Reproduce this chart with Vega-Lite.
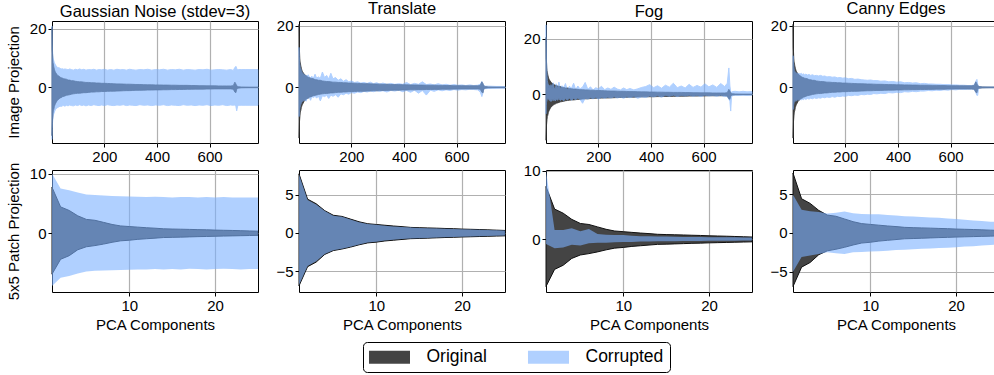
{
"$schema": "https://vega.github.io/schema/vega-lite/v6.json",
"background": "white",
"padding": {"left": 5, "top": 0, "right": 0, "bottom": 0},
"config": {
  "font": "Liberation Sans",
  "view": {"stroke": "#000000", "strokeWidth": 1},
  "axis": {"grid": true, "gridColor": "#b0b0b0", "gridWidth": 1.2, "domain": false, "tickColor": "#000000", "tickSize": 4, "labelFontSize": 15, "labelColor": "#000000", "titleFontSize": 15, "titleFontWeight": "normal", "titleColor": "#000000", "zindex": 1, "labelPadding": 2},
  "axisY": {"titlePadding": 8},
  "title": {"fontSize": 16.5, "fontWeight": "normal", "color": "#000000", "offset": 1},
  "legend": {"orient": "none", "legendX": 311, "legendY": 321, "direction": "horizontal", "title": null, "symbolType": "M-2.278,-0.72H2.278V0.72H-2.278Z", "symbolSize": 324, "symbolOffset": 11.5, "symbolStrokeWidth": 0, "labelFontSize": 17.5, "labelColor": "#000000", "labelOffset": 28, "columnPadding": 40, "padding": 6, "strokeColor": "#000000", "cornerRadius": 4, "fillColor": "#ffffff"}
},
"datasets": {
"ot": [
{"s":"Original","x":1,"lo":-16.5,"hi":20.5},{"s":"Original","x":2,"lo":-14,"hi":13},{"s":"Original","x":3,"lo":-11,"hi":11.5},{"s":"Original","x":4,"lo":-10,"hi":9.5},{"s":"Original","x":5,"lo":-9,"hi":8.5},{"s":"Original","x":6,"lo":-8,"hi":8},{"s":"Original","x":8,"lo":-7.5,"hi":7},{"s":"Original","x":10,"lo":-6.5,"hi":6.2},{"s":"Original","x":12,"lo":-6,"hi":5.6},{"s":"Original","x":14,"lo":-5.6,"hi":5.2},{"s":"Original","x":17,"lo":-5.1,"hi":4.8},{"s":"Original","x":20,"lo":-4.6,"hi":4.4},{"s":"Original","x":24,"lo":-4.2,"hi":4.0},{"s":"Original","x":28,"lo":-3.9,"hi":3.8},{"s":"Original","x":32,"lo":-3.6,"hi":3.5},{"s":"Original","x":36,"lo":-3.5,"hi":3.3},{"s":"Original","x":40,"lo":-3.2,"hi":3.2},{"s":"Original","x":45,"lo":-3.1,"hi":3.0},{"s":"Original","x":50,"lo":-2.9,"hi":2.9},{"s":"Original","x":56,"lo":-2.7,"hi":2.8},{"s":"Original","x":62,"lo":-2.6,"hi":2.5},{"s":"Original","x":68,"lo":-2.5,"hi":2.5},{"s":"Original","x":75,"lo":-2.3,"hi":2.3},{"s":"Original","x":82,"lo":-2.2,"hi":2.3},{"s":"Original","x":90,"lo":-2.1,"hi":2.1},{"s":"Original","x":98,"lo":-2.0,"hi":2.0},{"s":"Original","x":106,"lo":-2.0,"hi":1.9},{"s":"Original","x":114,"lo":-1.9,"hi":1.9},{"s":"Original","x":122,"lo":-1.8,"hi":1.8},{"s":"Original","x":130,"lo":-1.8,"hi":1.7},{"s":"Original","x":140,"lo":-1.7,"hi":1.7},{"s":"Original","x":150,"lo":-1.6,"hi":1.6},{"s":"Original","x":160,"lo":-1.6,"hi":1.6},{"s":"Original","x":170,"lo":-1.5,"hi":1.5},{"s":"Original","x":180,"lo":-1.5,"hi":1.5},{"s":"Original","x":190,"lo":-1.4,"hi":1.4},{"s":"Original","x":200,"lo":-1.4,"hi":1.4},{"s":"Original","x":212,"lo":-1.35,"hi":1.35},{"s":"Original","x":224,"lo":-1.3,"hi":1.3},{"s":"Original","x":236,"lo":-1.3,"hi":1.25},{"s":"Original","x":248,"lo":-1.25,"hi":1.2},{"s":"Original","x":260,"lo":-1.2,"hi":1.2},{"s":"Original","x":272,"lo":-1.15,"hi":1.15},{"s":"Original","x":284,"lo":-1.1,"hi":1.1},{"s":"Original","x":296,"lo":-1.1,"hi":1.1},{"s":"Original","x":308,"lo":-1.05,"hi":1.05},{"s":"Original","x":320,"lo":-1.0,"hi":1.0},{"s":"Original","x":335,"lo":-1.0,"hi":1.0},{"s":"Original","x":350,"lo":-0.95,"hi":0.95},{"s":"Original","x":365,"lo":-0.9,"hi":0.9},{"s":"Original","x":380,"lo":-0.9,"hi":0.9},{"s":"Original","x":395,"lo":-0.85,"hi":0.85},{"s":"Original","x":410,"lo":-0.85,"hi":0.85},{"s":"Original","x":425,"lo":-0.8,"hi":0.8},{"s":"Original","x":440,"lo":-0.8,"hi":0.8},{"s":"Original","x":455,"lo":-0.75,"hi":0.75},{"s":"Original","x":470,"lo":-0.75,"hi":0.75},{"s":"Original","x":485,"lo":-0.7,"hi":0.7},{"s":"Original","x":500,"lo":-0.7,"hi":0.7},{"s":"Original","x":515,"lo":-0.65,"hi":0.7},{"s":"Original","x":530,"lo":-0.65,"hi":0.65},{"s":"Original","x":545,"lo":-0.6,"hi":0.65},{"s":"Original","x":560,"lo":-0.6,"hi":0.6},{"s":"Original","x":575,"lo":-0.6,"hi":0.6},{"s":"Original","x":590,"lo":-0.55,"hi":0.55},{"s":"Original","x":605,"lo":-0.55,"hi":0.55},{"s":"Original","x":620,"lo":-0.5,"hi":0.55},{"s":"Original","x":635,"lo":-0.5,"hi":0.5},{"s":"Original","x":650,"lo":-0.5,"hi":0.5},{"s":"Original","x":665,"lo":-0.5,"hi":0.5},{"s":"Original","x":680,"lo":-0.5,"hi":0.5},{"s":"Original","x":690,"lo":-0.6,"hi":0.6},{"s":"Original","x":696,"lo":-1.6,"hi":1.8},{"s":"Original","x":700,"lo":-1.8,"hi":1.2},{"s":"Original","x":703,"lo":-0.6,"hi":0.5},{"s":"Original","x":706,"lo":-0.4,"hi":0.4},{"s":"Original","x":710,"lo":-0.25,"hi":0.25},{"s":"Original","x":720,"lo":-0.15,"hi":0.15},{"s":"Original","x":735,"lo":-0.12,"hi":0.12},{"s":"Original","x":750,"lo":-0.1,"hi":0.1},{"s":"Original","x":765,"lo":-0.1,"hi":0.1},{"s":"Original","x":784,"lo":-0.1,"hi":0.1}
],
"ct": [
{"p":"G","s":"Corrupted","x":1,"lo":-17.8,"hi":21},{"p":"G","s":"Corrupted","x":2,"lo":-14,"hi":14.5},{"p":"G","s":"Corrupted","x":3,"lo":-12,"hi":12.5},{"p":"G","s":"Corrupted","x":4,"lo":-11,"hi":11},{"p":"G","s":"Corrupted","x":5,"lo":-10.2,"hi":10},{"p":"G","s":"Corrupted","x":6,"lo":-9.5,"hi":9.8},{"p":"G","s":"Corrupted","x":8,"lo":-9,"hi":9},{"p":"G","s":"Corrupted","x":10,"lo":-8.4,"hi":8.5},{"p":"G","s":"Corrupted","x":12,"lo":-8,"hi":8},{"p":"G","s":"Corrupted","x":14,"lo":-7.6,"hi":7.8},{"p":"G","s":"Corrupted","x":17,"lo":-7.3,"hi":7.2},{"p":"G","s":"Corrupted","x":20,"lo":-7.0,"hi":7.1},{"p":"G","s":"Corrupted","x":24,"lo":-6.8,"hi":6.7},{"p":"G","s":"Corrupted","x":28,"lo":-6.6,"hi":6.7},{"p":"G","s":"Corrupted","x":32,"lo":-6.4,"hi":6.5},{"p":"G","s":"Corrupted","x":36,"lo":-6.5,"hi":6.3},{"p":"G","s":"Corrupted","x":40,"lo":-6.3,"hi":6.4},{"p":"G","s":"Corrupted","x":45,"lo":-6.2,"hi":6.2},{"p":"G","s":"Corrupted","x":50,"lo":-6.4,"hi":6.3},{"p":"G","s":"Corrupted","x":56,"lo":-6.1,"hi":6.2},{"p":"G","s":"Corrupted","x":62,"lo":-6.3,"hi":6.0},{"p":"G","s":"Corrupted","x":68,"lo":-6.0,"hi":6.3},{"p":"G","s":"Corrupted","x":75,"lo":-6.2,"hi":6.1},{"p":"G","s":"Corrupted","x":82,"lo":-6.3,"hi":5.9},{"p":"G","s":"Corrupted","x":90,"lo":-6.0,"hi":6.2},{"p":"G","s":"Corrupted","x":98,"lo":-6.2,"hi":6.0},{"p":"G","s":"Corrupted","x":106,"lo":-5.9,"hi":6.3},{"p":"G","s":"Corrupted","x":114,"lo":-6.2,"hi":6.0},{"p":"G","s":"Corrupted","x":122,"lo":-6.0,"hi":6.2},{"p":"G","s":"Corrupted","x":130,"lo":-6.3,"hi":5.9},{"p":"G","s":"Corrupted","x":140,"lo":-6.0,"hi":6.1},{"p":"G","s":"Corrupted","x":150,"lo":-6.2,"hi":6.0},{"p":"G","s":"Corrupted","x":160,"lo":-5.9,"hi":6.2},{"p":"G","s":"Corrupted","x":170,"lo":-6.1,"hi":5.9},{"p":"G","s":"Corrupted","x":180,"lo":-6.2,"hi":6.1},{"p":"G","s":"Corrupted","x":190,"lo":-6.0,"hi":6.0},{"p":"G","s":"Corrupted","x":200,"lo":-6.2,"hi":6.2},{"p":"G","s":"Corrupted","x":212,"lo":-5.9,"hi":5.9},{"p":"G","s":"Corrupted","x":224,"lo":-6.1,"hi":6.1},{"p":"G","s":"Corrupted","x":236,"lo":-6.2,"hi":5.9},{"p":"G","s":"Corrupted","x":248,"lo":-6.0,"hi":6.2},{"p":"G","s":"Corrupted","x":260,"lo":-6.1,"hi":6.0},{"p":"G","s":"Corrupted","x":272,"lo":-5.9,"hi":6.1},{"p":"G","s":"Corrupted","x":284,"lo":-6.2,"hi":5.9},{"p":"G","s":"Corrupted","x":296,"lo":-6.0,"hi":6.2},{"p":"G","s":"Corrupted","x":308,"lo":-6.1,"hi":6.0},{"p":"G","s":"Corrupted","x":320,"lo":-6.2,"hi":5.9},{"p":"G","s":"Corrupted","x":335,"lo":-5.9,"hi":6.1},{"p":"G","s":"Corrupted","x":350,"lo":-6.1,"hi":6.0},{"p":"G","s":"Corrupted","x":365,"lo":-6.0,"hi":6.2},{"p":"G","s":"Corrupted","x":380,"lo":-6.2,"hi":5.9},{"p":"G","s":"Corrupted","x":395,"lo":-6.0,"hi":6.1},{"p":"G","s":"Corrupted","x":410,"lo":-6.1,"hi":6.0},{"p":"G","s":"Corrupted","x":425,"lo":-5.9,"hi":6.2},{"p":"G","s":"Corrupted","x":440,"lo":-6.2,"hi":5.9},{"p":"G","s":"Corrupted","x":455,"lo":-6.0,"hi":6.1},{"p":"G","s":"Corrupted","x":470,"lo":-6.1,"hi":6.0},{"p":"G","s":"Corrupted","x":485,"lo":-6.2,"hi":6.2},{"p":"G","s":"Corrupted","x":500,"lo":-5.9,"hi":5.9},{"p":"G","s":"Corrupted","x":515,"lo":-6.1,"hi":6.1},{"p":"G","s":"Corrupted","x":530,"lo":-6.0,"hi":6.0},{"p":"G","s":"Corrupted","x":545,"lo":-6.2,"hi":5.9},{"p":"G","s":"Corrupted","x":560,"lo":-6.0,"hi":6.1},{"p":"G","s":"Corrupted","x":575,"lo":-6.1,"hi":6.0},{"p":"G","s":"Corrupted","x":590,"lo":-5.9,"hi":6.2},{"p":"G","s":"Corrupted","x":605,"lo":-6.2,"hi":5.9},{"p":"G","s":"Corrupted","x":620,"lo":-6.0,"hi":6.0},{"p":"G","s":"Corrupted","x":635,"lo":-6.1,"hi":6.1},{"p":"G","s":"Corrupted","x":650,"lo":-5.9,"hi":6.0},{"p":"G","s":"Corrupted","x":665,"lo":-6.2,"hi":5.9},{"p":"G","s":"Corrupted","x":680,"lo":-6.0,"hi":6.1},{"p":"G","s":"Corrupted","x":690,"lo":-6.1,"hi":5.8},{"p":"G","s":"Corrupted","x":696,"lo":-6.0,"hi":6.8},{"p":"G","s":"Corrupted","x":700,"lo":-6.5,"hi":7.2},{"p":"G","s":"Corrupted","x":703,"lo":-8.0,"hi":6.5},{"p":"G","s":"Corrupted","x":706,"lo":-6.6,"hi":6.0},{"p":"G","s":"Corrupted","x":710,"lo":-6.1,"hi":6.1},{"p":"G","s":"Corrupted","x":720,"lo":-6.1,"hi":6.1},{"p":"G","s":"Corrupted","x":735,"lo":-6.1,"hi":6.1},{"p":"G","s":"Corrupted","x":750,"lo":-6.1,"hi":6.1},{"p":"G","s":"Corrupted","x":765,"lo":-6.1,"hi":6.1},{"p":"G","s":"Corrupted","x":784,"lo":-6.1,"hi":6.1},
{"p":"T","s":"Corrupted","x":1,"lo":-9.5,"hi":13},{"p":"T","s":"Corrupted","x":2,"lo":-9,"hi":10},{"p":"T","s":"Corrupted","x":3,"lo":-8,"hi":8.5},{"p":"T","s":"Corrupted","x":4,"lo":-7,"hi":7.5},{"p":"T","s":"Corrupted","x":5,"lo":-6.5,"hi":7},{"p":"T","s":"Corrupted","x":6,"lo":-6,"hi":6.5},{"p":"T","s":"Corrupted","x":8,"lo":-5.5,"hi":6},{"p":"T","s":"Corrupted","x":10,"lo":-5,"hi":5.5},{"p":"T","s":"Corrupted","x":12,"lo":-4.8,"hi":5},{"p":"T","s":"Corrupted","x":14,"lo":-4.5,"hi":4.7},{"p":"T","s":"Corrupted","x":17,"lo":-4.3,"hi":4.4},{"p":"T","s":"Corrupted","x":20,"lo":-4.4,"hi":4.2},{"p":"T","s":"Corrupted","x":24,"lo":-4.0,"hi":4.0},{"p":"T","s":"Corrupted","x":28,"lo":-4.5,"hi":3.8},{"p":"T","s":"Corrupted","x":32,"lo":-3.6,"hi":3.7},{"p":"T","s":"Corrupted","x":36,"lo":-3.5,"hi":4.1},{"p":"T","s":"Corrupted","x":40,"lo":-3.3,"hi":3.4},{"p":"T","s":"Corrupted","x":45,"lo":-4.2,"hi":3.2},{"p":"T","s":"Corrupted","x":50,"lo":-3.0,"hi":3.6},{"p":"T","s":"Corrupted","x":56,"lo":-3.3,"hi":3.0},{"p":"T","s":"Corrupted","x":62,"lo":-2.9,"hi":4.3},{"p":"T","s":"Corrupted","x":68,"lo":-3.5,"hi":3.0},{"p":"T","s":"Corrupted","x":75,"lo":-2.8,"hi":3.4},{"p":"T","s":"Corrupted","x":82,"lo":-4.4,"hi":2.9},{"p":"T","s":"Corrupted","x":90,"lo":-2.7,"hi":5.0},{"p":"T","s":"Corrupted","x":98,"lo":-3.0,"hi":3.2},{"p":"T","s":"Corrupted","x":106,"lo":-2.6,"hi":3.9},{"p":"T","s":"Corrupted","x":114,"lo":-3.6,"hi":2.7},{"p":"T","s":"Corrupted","x":122,"lo":-2.5,"hi":4.6},{"p":"T","s":"Corrupted","x":130,"lo":-2.9,"hi":2.8},{"p":"T","s":"Corrupted","x":140,"lo":-2.4,"hi":3.2},{"p":"T","s":"Corrupted","x":150,"lo":-3.2,"hi":2.3},{"p":"T","s":"Corrupted","x":160,"lo":-2.1,"hi":2.8},{"p":"T","s":"Corrupted","x":170,"lo":-2.4,"hi":2.0},{"p":"T","s":"Corrupted","x":180,"lo":-1.9,"hi":2.5},{"p":"T","s":"Corrupted","x":190,"lo":-2.2,"hi":1.8},{"p":"T","s":"Corrupted","x":200,"lo":-1.7,"hi":2.1},{"p":"T","s":"Corrupted","x":212,"lo":-1.9,"hi":1.6},{"p":"T","s":"Corrupted","x":224,"lo":-1.5,"hi":1.8},{"p":"T","s":"Corrupted","x":236,"lo":-1.7,"hi":1.4},{"p":"T","s":"Corrupted","x":248,"lo":-1.3,"hi":1.6},{"p":"T","s":"Corrupted","x":260,"lo":-1.5,"hi":1.3},{"p":"T","s":"Corrupted","x":272,"lo":-1.2,"hi":1.7},{"p":"T","s":"Corrupted","x":284,"lo":-1.4,"hi":1.2},{"p":"T","s":"Corrupted","x":296,"lo":-1.1,"hi":1.5},{"p":"T","s":"Corrupted","x":308,"lo":-1.3,"hi":1.1},{"p":"T","s":"Corrupted","x":320,"lo":-1.1,"hi":1.4},{"p":"T","s":"Corrupted","x":335,"lo":-1.5,"hi":1.0},{"p":"T","s":"Corrupted","x":350,"lo":-1.0,"hi":1.3},{"p":"T","s":"Corrupted","x":365,"lo":-1.2,"hi":1.0},{"p":"T","s":"Corrupted","x":380,"lo":-0.9,"hi":1.2},{"p":"T","s":"Corrupted","x":395,"lo":-1.4,"hi":1.0},{"p":"T","s":"Corrupted","x":410,"lo":-1.0,"hi":1.6},{"p":"T","s":"Corrupted","x":425,"lo":-1.6,"hi":0.9},{"p":"T","s":"Corrupted","x":440,"lo":-0.9,"hi":1.3},{"p":"T","s":"Corrupted","x":455,"lo":-1.9,"hi":1.0},{"p":"T","s":"Corrupted","x":470,"lo":-1.0,"hi":1.8},{"p":"T","s":"Corrupted","x":485,"lo":-2.5,"hi":0.9},{"p":"T","s":"Corrupted","x":500,"lo":-0.9,"hi":1.1},{"p":"T","s":"Corrupted","x":515,"lo":-1.3,"hi":0.8},{"p":"T","s":"Corrupted","x":530,"lo":-0.8,"hi":1.2},{"p":"T","s":"Corrupted","x":545,"lo":-1.1,"hi":0.8},{"p":"T","s":"Corrupted","x":560,"lo":-0.8,"hi":1.0},{"p":"T","s":"Corrupted","x":575,"lo":-1.0,"hi":0.7},{"p":"T","s":"Corrupted","x":590,"lo":-0.7,"hi":0.9},{"p":"T","s":"Corrupted","x":605,"lo":-0.9,"hi":0.7},{"p":"T","s":"Corrupted","x":620,"lo":-0.7,"hi":0.8},{"p":"T","s":"Corrupted","x":635,"lo":-0.8,"hi":0.6},{"p":"T","s":"Corrupted","x":650,"lo":-0.6,"hi":0.8},{"p":"T","s":"Corrupted","x":665,"lo":-0.7,"hi":0.6},{"p":"T","s":"Corrupted","x":680,"lo":-0.8,"hi":0.7},{"p":"T","s":"Corrupted","x":690,"lo":-1.5,"hi":1.0},{"p":"T","s":"Corrupted","x":696,"lo":-3.0,"hi":1.9},{"p":"T","s":"Corrupted","x":700,"lo":-1.9,"hi":1.3},{"p":"T","s":"Corrupted","x":703,"lo":-0.7,"hi":0.6},{"p":"T","s":"Corrupted","x":706,"lo":-0.5,"hi":0.5},{"p":"T","s":"Corrupted","x":710,"lo":-0.4,"hi":0.4},{"p":"T","s":"Corrupted","x":720,"lo":-0.35,"hi":0.4},{"p":"T","s":"Corrupted","x":735,"lo":-0.3,"hi":0.35},{"p":"T","s":"Corrupted","x":750,"lo":-0.3,"hi":0.3},{"p":"T","s":"Corrupted","x":765,"lo":-0.25,"hi":0.3},{"p":"T","s":"Corrupted","x":784,"lo":-0.25,"hi":0.25},
{"p":"F","s":"Corrupted","x":1,"lo":-7,"hi":25},{"p":"F","s":"Corrupted","x":2,"lo":-4,"hi":19},{"p":"F","s":"Corrupted","x":3,"lo":-3,"hi":12},{"p":"F","s":"Corrupted","x":4,"lo":-2.5,"hi":9},{"p":"F","s":"Corrupted","x":5,"lo":-2,"hi":6.5},{"p":"F","s":"Corrupted","x":6,"lo":-1.8,"hi":5},{"p":"F","s":"Corrupted","x":8,"lo":-1.5,"hi":4},{"p":"F","s":"Corrupted","x":10,"lo":-1.8,"hi":3.5},{"p":"F","s":"Corrupted","x":12,"lo":-1.4,"hi":2.5},{"p":"F","s":"Corrupted","x":14,"lo":-2.2,"hi":3.2},{"p":"F","s":"Corrupted","x":17,"lo":-1.9,"hi":2.2},{"p":"F","s":"Corrupted","x":20,"lo":-2.6,"hi":3.5},{"p":"F","s":"Corrupted","x":24,"lo":-1.8,"hi":2.0},{"p":"F","s":"Corrupted","x":28,"lo":-2.3,"hi":4.2},{"p":"F","s":"Corrupted","x":32,"lo":-1.6,"hi":2.4},{"p":"F","s":"Corrupted","x":36,"lo":-2.4,"hi":1.8},{"p":"F","s":"Corrupted","x":40,"lo":-1.7,"hi":3.8},{"p":"F","s":"Corrupted","x":45,"lo":-2.1,"hi":2.1},{"p":"F","s":"Corrupted","x":50,"lo":-1.5,"hi":4.4},{"p":"F","s":"Corrupted","x":56,"lo":-2.2,"hi":1.9},{"p":"F","s":"Corrupted","x":62,"lo":-1.6,"hi":3.1},{"p":"F","s":"Corrupted","x":68,"lo":-2.4,"hi":2.3},{"p":"F","s":"Corrupted","x":75,"lo":-1.5,"hi":3.9},{"p":"F","s":"Corrupted","x":82,"lo":-2.0,"hi":1.6},{"p":"F","s":"Corrupted","x":90,"lo":-1.4,"hi":2.9},{"p":"F","s":"Corrupted","x":98,"lo":-2.1,"hi":2.2},{"p":"F","s":"Corrupted","x":106,"lo":-1.5,"hi":4.0},{"p":"F","s":"Corrupted","x":114,"lo":-1.9,"hi":1.7},{"p":"F","s":"Corrupted","x":122,"lo":-1.3,"hi":3.0},{"p":"F","s":"Corrupted","x":130,"lo":-1.8,"hi":2.0},{"p":"F","s":"Corrupted","x":140,"lo":-3.2,"hi":2.6},{"p":"F","s":"Corrupted","x":150,"lo":-1.4,"hi":4.3},{"p":"F","s":"Corrupted","x":160,"lo":-1.7,"hi":1.8},{"p":"F","s":"Corrupted","x":170,"lo":-1.2,"hi":2.7},{"p":"F","s":"Corrupted","x":180,"lo":-1.6,"hi":1.6},{"p":"F","s":"Corrupted","x":190,"lo":-1.1,"hi":2.4},{"p":"F","s":"Corrupted","x":200,"lo":-1.7,"hi":2.0},{"p":"F","s":"Corrupted","x":212,"lo":-1.1,"hi":2.9},{"p":"F","s":"Corrupted","x":224,"lo":-1.4,"hi":1.7},{"p":"F","s":"Corrupted","x":236,"lo":-1.0,"hi":2.3},{"p":"F","s":"Corrupted","x":248,"lo":-1.3,"hi":1.8},{"p":"F","s":"Corrupted","x":260,"lo":-0.9,"hi":2.6},{"p":"F","s":"Corrupted","x":272,"lo":-1.3,"hi":1.9},{"p":"F","s":"Corrupted","x":284,"lo":-1.0,"hi":1.6},{"p":"F","s":"Corrupted","x":296,"lo":-1.4,"hi":2.3},{"p":"F","s":"Corrupted","x":308,"lo":-0.9,"hi":1.7},{"p":"F","s":"Corrupted","x":320,"lo":-1.2,"hi":2.1},{"p":"F","s":"Corrupted","x":335,"lo":-0.8,"hi":1.6},{"p":"F","s":"Corrupted","x":350,"lo":-1.4,"hi":2.0},{"p":"F","s":"Corrupted","x":365,"lo":-0.9,"hi":2.5},{"p":"F","s":"Corrupted","x":380,"lo":-1.1,"hi":2.8},{"p":"F","s":"Corrupted","x":395,"lo":-0.6,"hi":3.5},{"p":"F","s":"Corrupted","x":410,"lo":-0.9,"hi":2.4},{"p":"F","s":"Corrupted","x":425,"lo":-0.5,"hi":3.1},{"p":"F","s":"Corrupted","x":440,"lo":-1.0,"hi":2.2},{"p":"F","s":"Corrupted","x":455,"lo":-0.4,"hi":3.3},{"p":"F","s":"Corrupted","x":470,"lo":-0.7,"hi":2.6},{"p":"F","s":"Corrupted","x":485,"lo":-0.3,"hi":4.0},{"p":"F","s":"Corrupted","x":500,"lo":-0.8,"hi":2.4},{"p":"F","s":"Corrupted","x":515,"lo":-0.4,"hi":3.0},{"p":"F","s":"Corrupted","x":530,"lo":-0.6,"hi":2.3},{"p":"F","s":"Corrupted","x":545,"lo":-0.3,"hi":3.6},{"p":"F","s":"Corrupted","x":560,"lo":-0.7,"hi":2.5},{"p":"F","s":"Corrupted","x":575,"lo":-0.4,"hi":3.2},{"p":"F","s":"Corrupted","x":590,"lo":-0.8,"hi":2.6},{"p":"F","s":"Corrupted","x":605,"lo":-0.3,"hi":3.8},{"p":"F","s":"Corrupted","x":620,"lo":-0.6,"hi":2.7},{"p":"F","s":"Corrupted","x":635,"lo":-0.4,"hi":3.4},{"p":"F","s":"Corrupted","x":650,"lo":-0.7,"hi":2.5},{"p":"F","s":"Corrupted","x":665,"lo":-0.3,"hi":3.9},{"p":"F","s":"Corrupted","x":680,"lo":-0.8,"hi":2.8},{"p":"F","s":"Corrupted","x":690,"lo":-0.6,"hi":4.0},{"p":"F","s":"Corrupted","x":696,"lo":-1.8,"hi":9.5},{"p":"F","s":"Corrupted","x":700,"lo":-2.5,"hi":3.0},{"p":"F","s":"Corrupted","x":703,"lo":-6.0,"hi":1.0},{"p":"F","s":"Corrupted","x":706,"lo":-1.0,"hi":0.8},{"p":"F","s":"Corrupted","x":710,"lo":-0.4,"hi":1.0},{"p":"F","s":"Corrupted","x":720,"lo":-0.3,"hi":1.1},{"p":"F","s":"Corrupted","x":735,"lo":-0.4,"hi":0.9},{"p":"F","s":"Corrupted","x":750,"lo":-0.3,"hi":1.1},{"p":"F","s":"Corrupted","x":765,"lo":-0.4,"hi":0.9},{"p":"F","s":"Corrupted","x":784,"lo":-0.3,"hi":1.0},
{"p":"C","s":"Corrupted","x":1,"lo":-7.2,"hi":10.3},{"p":"C","s":"Corrupted","x":2,"lo":-7,"hi":10},{"p":"C","s":"Corrupted","x":3,"lo":-6,"hi":8},{"p":"C","s":"Corrupted","x":4,"lo":-5.5,"hi":7},{"p":"C","s":"Corrupted","x":5,"lo":-5,"hi":6},{"p":"C","s":"Corrupted","x":6,"lo":-4.8,"hi":5.5},{"p":"C","s":"Corrupted","x":8,"lo":-4.6,"hi":5.2},{"p":"C","s":"Corrupted","x":10,"lo":-4.5,"hi":5.0},{"p":"C","s":"Corrupted","x":12,"lo":-4.3,"hi":4.8},{"p":"C","s":"Corrupted","x":14,"lo":-4.4,"hi":4.6},{"p":"C","s":"Corrupted","x":17,"lo":-4.1,"hi":4.7},{"p":"C","s":"Corrupted","x":20,"lo":-4.0,"hi":4.4},{"p":"C","s":"Corrupted","x":24,"lo":-4.2,"hi":4.5},{"p":"C","s":"Corrupted","x":28,"lo":-3.9,"hi":4.3},{"p":"C","s":"Corrupted","x":32,"lo":-4.1,"hi":4.6},{"p":"C","s":"Corrupted","x":36,"lo":-3.8,"hi":4.2},{"p":"C","s":"Corrupted","x":40,"lo":-4.0,"hi":4.4},{"p":"C","s":"Corrupted","x":45,"lo":-3.7,"hi":4.1},{"p":"C","s":"Corrupted","x":50,"lo":-3.9,"hi":4.3},{"p":"C","s":"Corrupted","x":56,"lo":-3.6,"hi":4.0},{"p":"C","s":"Corrupted","x":62,"lo":-3.8,"hi":4.2},{"p":"C","s":"Corrupted","x":68,"lo":-3.5,"hi":3.9},{"p":"C","s":"Corrupted","x":75,"lo":-3.7,"hi":4.1},{"p":"C","s":"Corrupted","x":82,"lo":-3.4,"hi":3.8},{"p":"C","s":"Corrupted","x":90,"lo":-3.6,"hi":3.9},{"p":"C","s":"Corrupted","x":98,"lo":-3.4,"hi":3.7},{"p":"C","s":"Corrupted","x":106,"lo":-3.5,"hi":3.9},{"p":"C","s":"Corrupted","x":114,"lo":-3.2,"hi":3.6},{"p":"C","s":"Corrupted","x":122,"lo":-3.4,"hi":3.7},{"p":"C","s":"Corrupted","x":130,"lo":-3.1,"hi":3.4},{"p":"C","s":"Corrupted","x":140,"lo":-3.3,"hi":3.5},{"p":"C","s":"Corrupted","x":150,"lo":-3.0,"hi":3.3},{"p":"C","s":"Corrupted","x":160,"lo":-3.2,"hi":3.4},{"p":"C","s":"Corrupted","x":170,"lo":-2.9,"hi":3.1},{"p":"C","s":"Corrupted","x":180,"lo":-3.0,"hi":3.2},{"p":"C","s":"Corrupted","x":190,"lo":-2.8,"hi":3.0},{"p":"C","s":"Corrupted","x":200,"lo":-2.9,"hi":3.1},{"p":"C","s":"Corrupted","x":212,"lo":-2.6,"hi":2.8},{"p":"C","s":"Corrupted","x":224,"lo":-2.7,"hi":2.9},{"p":"C","s":"Corrupted","x":236,"lo":-2.5,"hi":2.6},{"p":"C","s":"Corrupted","x":248,"lo":-2.6,"hi":2.7},{"p":"C","s":"Corrupted","x":260,"lo":-2.3,"hi":2.5},{"p":"C","s":"Corrupted","x":272,"lo":-2.4,"hi":2.4},{"p":"C","s":"Corrupted","x":284,"lo":-2.2,"hi":2.3},{"p":"C","s":"Corrupted","x":296,"lo":-2.3,"hi":2.4},{"p":"C","s":"Corrupted","x":308,"lo":-2.0,"hi":2.2},{"p":"C","s":"Corrupted","x":320,"lo":-2.1,"hi":2.2},{"p":"C","s":"Corrupted","x":335,"lo":-1.9,"hi":2.0},{"p":"C","s":"Corrupted","x":350,"lo":-2.0,"hi":2.1},{"p":"C","s":"Corrupted","x":365,"lo":-1.7,"hi":1.8},{"p":"C","s":"Corrupted","x":380,"lo":-1.8,"hi":1.9},{"p":"C","s":"Corrupted","x":395,"lo":-1.6,"hi":1.7},{"p":"C","s":"Corrupted","x":410,"lo":-1.7,"hi":1.8},{"p":"C","s":"Corrupted","x":425,"lo":-1.4,"hi":1.5},{"p":"C","s":"Corrupted","x":440,"lo":-1.5,"hi":1.6},{"p":"C","s":"Corrupted","x":455,"lo":-1.3,"hi":1.4},{"p":"C","s":"Corrupted","x":470,"lo":-1.4,"hi":1.5},{"p":"C","s":"Corrupted","x":485,"lo":-1.2,"hi":1.2},{"p":"C","s":"Corrupted","x":500,"lo":-1.2,"hi":1.3},{"p":"C","s":"Corrupted","x":515,"lo":-1.0,"hi":1.1},{"p":"C","s":"Corrupted","x":530,"lo":-1.1,"hi":1.1},{"p":"C","s":"Corrupted","x":545,"lo":-0.9,"hi":1.0},{"p":"C","s":"Corrupted","x":560,"lo":-1.0,"hi":1.0},{"p":"C","s":"Corrupted","x":575,"lo":-0.8,"hi":0.9},{"p":"C","s":"Corrupted","x":590,"lo":-0.9,"hi":0.9},{"p":"C","s":"Corrupted","x":605,"lo":-0.7,"hi":0.8},{"p":"C","s":"Corrupted","x":620,"lo":-0.8,"hi":0.8},{"p":"C","s":"Corrupted","x":635,"lo":-0.6,"hi":0.7},{"p":"C","s":"Corrupted","x":650,"lo":-0.7,"hi":0.7},{"p":"C","s":"Corrupted","x":665,"lo":-0.6,"hi":0.6},{"p":"C","s":"Corrupted","x":680,"lo":-0.6,"hi":0.6},{"p":"C","s":"Corrupted","x":690,"lo":-0.7,"hi":0.8},{"p":"C","s":"Corrupted","x":696,"lo":-1.7,"hi":2.0},{"p":"C","s":"Corrupted","x":700,"lo":-2.6,"hi":2.6},{"p":"C","s":"Corrupted","x":703,"lo":-2.6,"hi":1.0},{"p":"C","s":"Corrupted","x":706,"lo":-0.6,"hi":0.4},{"p":"C","s":"Corrupted","x":710,"lo":-0.25,"hi":0.25},{"p":"C","s":"Corrupted","x":720,"lo":-0.15,"hi":0.15},{"p":"C","s":"Corrupted","x":735,"lo":-0.15,"hi":0.15},{"p":"C","s":"Corrupted","x":750,"lo":-0.15,"hi":0.15},{"p":"C","s":"Corrupted","x":765,"lo":-0.15,"hi":0.15},{"p":"C","s":"Corrupted","x":784,"lo":-0.15,"hi":0.15}
],
"ob": [
{"s":"Original","x":1,"lo":-6.9,"hi":7.7},{"s":"Original","x":2,"lo":-4.4,"hi":4.4},{"s":"Original","x":3,"lo":-3.8,"hi":3.8},{"s":"Original","x":4,"lo":-2.8,"hi":2.9},{"s":"Original","x":5,"lo":-2.3,"hi":2.3},{"s":"Original","x":6,"lo":-2.1,"hi":2.15},{"s":"Original","x":7,"lo":-1.85,"hi":1.8},{"s":"Original","x":8,"lo":-1.55,"hi":1.45},{"s":"Original","x":9,"lo":-1.3,"hi":1.2},{"s":"Original","x":10,"lo":-1.2,"hi":1.1},{"s":"Original","x":11,"lo":-1.05,"hi":1.0},{"s":"Original","x":12,"lo":-0.95,"hi":0.9},{"s":"Original","x":13,"lo":-0.85,"hi":0.82},{"s":"Original","x":14,"lo":-0.75,"hi":0.72},{"s":"Original","x":15,"lo":-0.72,"hi":0.68},{"s":"Original","x":16,"lo":-0.68,"hi":0.65},{"s":"Original","x":17,"lo":-0.64,"hi":0.62},{"s":"Original","x":18,"lo":-0.6,"hi":0.58},{"s":"Original","x":19,"lo":-0.57,"hi":0.55},{"s":"Original","x":20,"lo":-0.53,"hi":0.5},{"s":"Original","x":21,"lo":-0.5,"hi":0.47},{"s":"Original","x":22,"lo":-0.47,"hi":0.44},{"s":"Original","x":23,"lo":-0.44,"hi":0.4},{"s":"Original","x":24,"lo":-0.41,"hi":0.36},{"s":"Original","x":25,"lo":-0.38,"hi":0.32}
],
"cb": [
{"p":"G","s":"Corrupted","x":1,"lo":-8.9,"hi":10.0},{"p":"G","s":"Corrupted","x":2,"lo":-7.5,"hi":7.5},{"p":"G","s":"Corrupted","x":3,"lo":-7.2,"hi":7.2},{"p":"G","s":"Corrupted","x":4,"lo":-6.8,"hi":6.8},{"p":"G","s":"Corrupted","x":5,"lo":-6.45,"hi":6.5},{"p":"G","s":"Corrupted","x":6,"lo":-6.35,"hi":6.4},{"p":"G","s":"Corrupted","x":7,"lo":-6.3,"hi":6.3},{"p":"G","s":"Corrupted","x":8,"lo":-6.25,"hi":6.25},{"p":"G","s":"Corrupted","x":9,"lo":-6.2,"hi":6.2},{"p":"G","s":"Corrupted","x":10,"lo":-6.15,"hi":6.15},{"p":"G","s":"Corrupted","x":11,"lo":-6.1,"hi":6.1},{"p":"G","s":"Corrupted","x":12,"lo":-6.1,"hi":6.05},{"p":"G","s":"Corrupted","x":13,"lo":-6.05,"hi":6.1},{"p":"G","s":"Corrupted","x":14,"lo":-6.1,"hi":6.05},{"p":"G","s":"Corrupted","x":15,"lo":-6.05,"hi":6.0},{"p":"G","s":"Corrupted","x":16,"lo":-6.1,"hi":6.05},{"p":"G","s":"Corrupted","x":17,"lo":-6.0,"hi":6.05},{"p":"G","s":"Corrupted","x":18,"lo":-6.05,"hi":6.0},{"p":"G","s":"Corrupted","x":19,"lo":-6.1,"hi":6.05},{"p":"G","s":"Corrupted","x":20,"lo":-6.05,"hi":6.0},{"p":"G","s":"Corrupted","x":21,"lo":-6.0,"hi":6.05},{"p":"G","s":"Corrupted","x":22,"lo":-6.05,"hi":6.0},{"p":"G","s":"Corrupted","x":23,"lo":-6.1,"hi":6.0},{"p":"G","s":"Corrupted","x":24,"lo":-6.05,"hi":6.0},{"p":"G","s":"Corrupted","x":25,"lo":-6.05,"hi":6.0},
{"p":"T","s":"Corrupted","x":1,"lo":-6.8,"hi":7.6},{"p":"T","s":"Corrupted","x":2,"lo":-4.3,"hi":4.3},{"p":"T","s":"Corrupted","x":3,"lo":-3.7,"hi":3.7},{"p":"T","s":"Corrupted","x":4,"lo":-2.75,"hi":2.85},{"p":"T","s":"Corrupted","x":5,"lo":-2.25,"hi":2.25},{"p":"T","s":"Corrupted","x":6,"lo":-2.05,"hi":2.1},{"p":"T","s":"Corrupted","x":7,"lo":-1.8,"hi":1.75},{"p":"T","s":"Corrupted","x":8,"lo":-1.5,"hi":1.4},{"p":"T","s":"Corrupted","x":9,"lo":-1.25,"hi":1.15},{"p":"T","s":"Corrupted","x":10,"lo":-1.15,"hi":1.05},{"p":"T","s":"Corrupted","x":11,"lo":-1.0,"hi":0.95},{"p":"T","s":"Corrupted","x":12,"lo":-0.9,"hi":0.85},{"p":"T","s":"Corrupted","x":13,"lo":-0.8,"hi":0.78},{"p":"T","s":"Corrupted","x":14,"lo":-0.72,"hi":0.7},{"p":"T","s":"Corrupted","x":15,"lo":-0.68,"hi":0.65},{"p":"T","s":"Corrupted","x":16,"lo":-0.65,"hi":0.62},{"p":"T","s":"Corrupted","x":17,"lo":-0.6,"hi":0.58},{"p":"T","s":"Corrupted","x":18,"lo":-0.57,"hi":0.55},{"p":"T","s":"Corrupted","x":19,"lo":-0.54,"hi":0.52},{"p":"T","s":"Corrupted","x":20,"lo":-0.5,"hi":0.47},{"p":"T","s":"Corrupted","x":21,"lo":-0.47,"hi":0.44},{"p":"T","s":"Corrupted","x":22,"lo":-0.44,"hi":0.41},{"p":"T","s":"Corrupted","x":23,"lo":-0.41,"hi":0.38},{"p":"T","s":"Corrupted","x":24,"lo":-0.38,"hi":0.34},{"p":"T","s":"Corrupted","x":25,"lo":-0.35,"hi":0.3},
{"p":"F","s":"Corrupted","x":1,"lo":-0.7,"hi":10.0},{"p":"F","s":"Corrupted","x":2,"lo":-1.3,"hi":1.35},{"p":"F","s":"Corrupted","x":3,"lo":-1.2,"hi":1.35},{"p":"F","s":"Corrupted","x":4,"lo":-0.8,"hi":1.6},{"p":"F","s":"Corrupted","x":5,"lo":-0.9,"hi":1.15},{"p":"F","s":"Corrupted","x":6,"lo":-0.6,"hi":1.5},{"p":"F","s":"Corrupted","x":7,"lo":-0.5,"hi":0.75},{"p":"F","s":"Corrupted","x":8,"lo":-0.5,"hi":0.65},{"p":"F","s":"Corrupted","x":9,"lo":-0.45,"hi":0.6},{"p":"F","s":"Corrupted","x":10,"lo":-0.4,"hi":0.6},{"p":"F","s":"Corrupted","x":11,"lo":-0.4,"hi":0.5},{"p":"F","s":"Corrupted","x":12,"lo":-0.35,"hi":0.45},{"p":"F","s":"Corrupted","x":13,"lo":-0.33,"hi":0.42},{"p":"F","s":"Corrupted","x":14,"lo":-0.3,"hi":0.4},{"p":"F","s":"Corrupted","x":15,"lo":-0.3,"hi":0.38},{"p":"F","s":"Corrupted","x":16,"lo":-0.28,"hi":0.36},{"p":"F","s":"Corrupted","x":17,"lo":-0.27,"hi":0.34},{"p":"F","s":"Corrupted","x":18,"lo":-0.26,"hi":0.33},{"p":"F","s":"Corrupted","x":19,"lo":-0.25,"hi":0.31},{"p":"F","s":"Corrupted","x":20,"lo":-0.24,"hi":0.3},{"p":"F","s":"Corrupted","x":21,"lo":-0.23,"hi":0.29},{"p":"F","s":"Corrupted","x":22,"lo":-0.22,"hi":0.28},{"p":"F","s":"Corrupted","x":23,"lo":-0.21,"hi":0.27},{"p":"F","s":"Corrupted","x":24,"lo":-0.2,"hi":0.26},{"p":"F","s":"Corrupted","x":25,"lo":-0.2,"hi":0.25},
{"p":"C","s":"Corrupted","x":1,"lo":-5.0,"hi":4.9},{"p":"C","s":"Corrupted","x":2,"lo":-3.1,"hi":3.0},{"p":"C","s":"Corrupted","x":3,"lo":-2.9,"hi":2.8},{"p":"C","s":"Corrupted","x":4,"lo":-2.7,"hi":2.7},{"p":"C","s":"Corrupted","x":5,"lo":-2.5,"hi":2.5},{"p":"C","s":"Corrupted","x":6,"lo":-2.6,"hi":2.6},{"p":"C","s":"Corrupted","x":7,"lo":-2.7,"hi":2.75},{"p":"C","s":"Corrupted","x":8,"lo":-2.5,"hi":2.55},{"p":"C","s":"Corrupted","x":9,"lo":-2.45,"hi":2.45},{"p":"C","s":"Corrupted","x":10,"lo":-2.4,"hi":2.4},{"p":"C","s":"Corrupted","x":11,"lo":-2.35,"hi":2.4},{"p":"C","s":"Corrupted","x":12,"lo":-2.3,"hi":2.3},{"p":"C","s":"Corrupted","x":13,"lo":-2.2,"hi":2.25},{"p":"C","s":"Corrupted","x":14,"lo":-2.15,"hi":2.15},{"p":"C","s":"Corrupted","x":15,"lo":-2.1,"hi":2.1},{"p":"C","s":"Corrupted","x":16,"lo":-2.05,"hi":2.05},{"p":"C","s":"Corrupted","x":17,"lo":-2.0,"hi":2.0},{"p":"C","s":"Corrupted","x":18,"lo":-1.95,"hi":1.95},{"p":"C","s":"Corrupted","x":19,"lo":-1.9,"hi":1.85},{"p":"C","s":"Corrupted","x":20,"lo":-1.85,"hi":1.8},{"p":"C","s":"Corrupted","x":21,"lo":-1.75,"hi":1.7},{"p":"C","s":"Corrupted","x":22,"lo":-1.7,"hi":1.6},{"p":"C","s":"Corrupted","x":23,"lo":-1.6,"hi":1.55},{"p":"C","s":"Corrupted","x":24,"lo":-1.55,"hi":1.45},{"p":"C","s":"Corrupted","x":25,"lo":-1.5,"hi":1.4}
]
},
"bounds": "flush",
"columns": 4,
"spacing": {"row": 27, "column": 41},
"concat": [
{"width":206,"height":122,"title":"Gaussian Noise (stdev=3)",
 "encoding":{"x":{"field":"x","type":"quantitative","scale":{"domain":[1,784],"nice":false,"zero":false},"axis":{"values":[200,400,600],"title":null}},"y":{"field":"lo","type":"quantitative","scale":{"domain":[-19,22.7],"nice":false,"zero":false},"axis":{"values":[0,20],"title":"Image Projection"}},"y2":{"field":"hi"},"color":{"field":"s","type":"nominal","scale":{"domain":["Original","Corrupted"],"range":["#444444","#7bb1ff"]}},"opacity":{"field":"s","type":"nominal","scale":{"domain":["Original","Corrupted"],"range":[1,0.6]}}},
 "layer":[{"data":{"name":"ot"},"mark":{"type":"area","stroke":"#333333","strokeWidth":0.8}},{"data":{"name":"ct"},"transform":[{"filter":"datum.p=='G'"}],"mark":{"type":"area","stroke":"#7bb1ff","strokeWidth":1}}]},
{"width":206,"height":122,"title":"Translate",
 "encoding":{"x":{"field":"x","type":"quantitative","scale":{"domain":[1,784],"nice":false,"zero":false},"axis":{"values":[200,400,600],"title":null}},"y":{"field":"lo","type":"quantitative","scale":{"domain":[-18.1,21.6],"nice":false,"zero":false},"axis":{"values":[0,20],"title":null}},"y2":{"field":"hi"},"color":{"field":"s","type":"nominal","scale":{"domain":["Original","Corrupted"],"range":["#444444","#7bb1ff"]}},"opacity":{"field":"s","type":"nominal","scale":{"domain":["Original","Corrupted"],"range":[1,0.6]}}},
 "layer":[{"data":{"name":"ot"},"mark":{"type":"area","stroke":"#333333","strokeWidth":0.8}},{"data":{"name":"ct"},"transform":[{"filter":"datum.p=='T'"}],"mark":{"type":"area","stroke":"#7bb1ff","strokeWidth":1}}]},
{"width":206,"height":122,"title":"Fog",
 "encoding":{"x":{"field":"x","type":"quantitative","scale":{"domain":[1,784],"nice":false,"zero":false},"axis":{"values":[200,400,600],"title":null}},"y":{"field":"lo","type":"quantitative","scale":{"domain":[-17.5,26.4],"nice":false,"zero":false},"axis":{"values":[0,20],"title":null}},"y2":{"field":"hi"},"color":{"field":"s","type":"nominal","scale":{"domain":["Original","Corrupted"],"range":["#444444","#7bb1ff"]}},"opacity":{"field":"s","type":"nominal","scale":{"domain":["Original","Corrupted"],"range":[1,0.6]}}},
 "layer":[{"data":{"name":"ot"},"mark":{"type":"area","stroke":"#333333","strokeWidth":0.8}},{"data":{"name":"ct"},"transform":[{"filter":"datum.p=='F'"}],"mark":{"type":"area","stroke":"#7bb1ff","strokeWidth":1}}]},
{"width":206,"height":122,"title":"Canny Edges",
 "encoding":{"x":{"field":"x","type":"quantitative","scale":{"domain":[1,784],"nice":false,"zero":false},"axis":{"values":[200,400,600],"title":null}},"y":{"field":"lo","type":"quantitative","scale":{"domain":[-18.1,21.6],"nice":false,"zero":false},"axis":{"values":[0,20],"title":null}},"y2":{"field":"hi"},"color":{"field":"s","type":"nominal","scale":{"domain":["Original","Corrupted"],"range":["#444444","#7bb1ff"]}},"opacity":{"field":"s","type":"nominal","scale":{"domain":["Original","Corrupted"],"range":[1,0.6]}}},
 "layer":[{"data":{"name":"ot"},"mark":{"type":"area","stroke":"#333333","strokeWidth":0.8}},{"data":{"name":"ct"},"transform":[{"filter":"datum.p=='C'"}],"mark":{"type":"area","stroke":"#7bb1ff","strokeWidth":1}}]},
{"width":206,"height":122,
 "encoding":{"x":{"field":"x","type":"quantitative","scale":{"domain":[1,25],"nice":false,"zero":false},"axis":{"values":[10,20],"title":"PCA Components"}},"y":{"field":"lo","type":"quantitative","scale":{"domain":[-9.9,10.6],"nice":false,"zero":false},"axis":{"values":[0,10],"title":"5x5 Patch Projection"}},"y2":{"field":"hi"},"color":{"field":"s","type":"nominal","scale":{"domain":["Original","Corrupted"],"range":["#444444","#7bb1ff"]}},"opacity":{"field":"s","type":"nominal","scale":{"domain":["Original","Corrupted"],"range":[1,0.6]}}},
 "layer":[{"data":{"name":"ob"},"mark":{"type":"area","stroke":"#111111","strokeWidth":1}},{"data":{"name":"cb"},"transform":[{"filter":"datum.p=='G'"}],"mark":{"type":"area"}}]},
{"width":206,"height":122,
 "encoding":{"x":{"field":"x","type":"quantitative","scale":{"domain":[1,25],"nice":false,"zero":false},"axis":{"values":[10,20],"title":"PCA Components"}},"y":{"field":"lo","type":"quantitative","scale":{"domain":[-7.7,8.2],"nice":false,"zero":false},"axis":{"values":[-5,0,5],"title":null}},"y2":{"field":"hi"},"color":{"field":"s","type":"nominal","scale":{"domain":["Original","Corrupted"],"range":["#444444","#7bb1ff"]}},"opacity":{"field":"s","type":"nominal","scale":{"domain":["Original","Corrupted"],"range":[1,0.6]}}},
 "layer":[{"data":{"name":"ob"},"mark":{"type":"area","stroke":"#111111","strokeWidth":1}},{"data":{"name":"cb"},"transform":[{"filter":"datum.p=='T'"}],"mark":{"type":"area"}}]},
{"width":206,"height":122,
 "encoding":{"x":{"field":"x","type":"quantitative","scale":{"domain":[1,25],"nice":false,"zero":false},"axis":{"values":[10,20],"title":"PCA Components"}},"y":{"field":"lo","type":"quantitative","scale":{"domain":[-7.7,10.1],"nice":false,"zero":false},"axis":{"values":[0,10],"title":null}},"y2":{"field":"hi"},"color":{"field":"s","type":"nominal","scale":{"domain":["Original","Corrupted"],"range":["#444444","#7bb1ff"]}},"opacity":{"field":"s","type":"nominal","scale":{"domain":["Original","Corrupted"],"range":[1,0.6]}}},
 "layer":[{"data":{"name":"ob"},"mark":{"type":"area","stroke":"#111111","strokeWidth":1}},{"data":{"name":"cb"},"transform":[{"filter":"datum.p=='F'"}],"mark":{"type":"area"}}]},
{"width":206,"height":122,
 "encoding":{"x":{"field":"x","type":"quantitative","scale":{"domain":[1,25],"nice":false,"zero":false},"axis":{"values":[10,20],"title":"PCA Components"}},"y":{"field":"lo","type":"quantitative","scale":{"domain":[-7.6,8.1],"nice":false,"zero":false},"axis":{"values":[-5,0,5],"title":null}},"y2":{"field":"hi"},"color":{"field":"s","type":"nominal","scale":{"domain":["Original","Corrupted"],"range":["#444444","#7bb1ff"]}},"opacity":{"field":"s","type":"nominal","scale":{"domain":["Original","Corrupted"],"range":[1,0.6]}}},
 "layer":[{"data":{"name":"ob"},"mark":{"type":"area","stroke":"#111111","strokeWidth":1}},{"data":{"name":"cb"},"transform":[{"filter":"datum.p=='C'"}],"mark":{"type":"area"}}]}
]
}
